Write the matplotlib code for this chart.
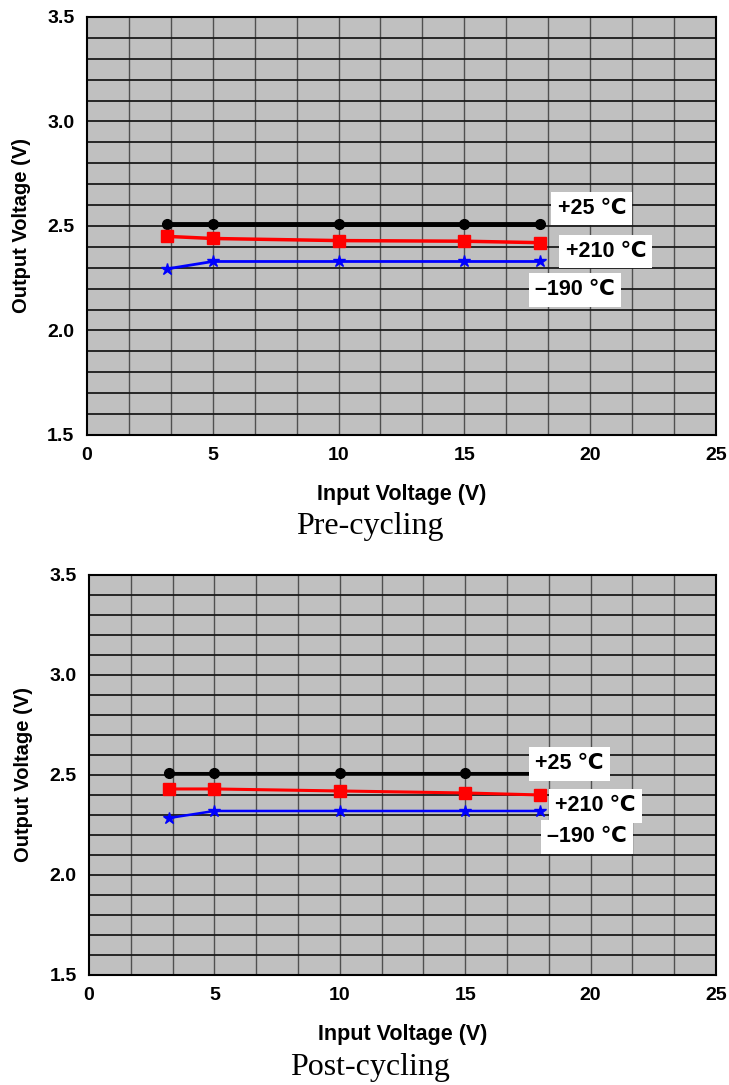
import numpy as np
import matplotlib
matplotlib.use("Agg")
import matplotlib.pyplot as plt


# output voltage vs input voltage, regulator at three temperatures
input_v = [3.2, 5, 10, 15, 18]

pre_25 = [2.51, 2.51, 2.51, 2.51, 2.51]
pre_210 = [2.45, 2.44, 2.43, 2.427, 2.42]
pre_m190 = [2.295, 2.33, 2.33, 2.33, 2.33]

post_25 = [2.51, 2.51, 2.51, 2.51, 2.51]
post_210 = [2.43, 2.43, 2.42, 2.41, 2.40]
post_m190 = [2.285, 2.32, 2.32, 2.32, 2.32]

labels = ["+25 \u2103", "+210 \u2103", "\u2013190 \u2103"]
titles = ["Pre-cycling", "Post-cycling"]

plt.rcParams['font.family'] = ['Liberation Sans', 'DejaVu Sans']

fig = plt.figure(figsize=(7.29, 10.85), dpi=100)

axes_rects = [[0.1193, 0.5991, 0.8628, 0.3853],
              [0.1221, 0.1014, 0.8601, 0.3687]]
# label box centres (data coords) per panel
label_pos = [[(20.07, 2.584), (20.62, 2.377), (19.4, 2.194)],
             [(19.16, 2.555), (20.2, 2.345), (19.86, 2.19)]]
title_y = [0.5143, 0.0157]
line_w = [(3.5, 2.5, 2.0), (2.2, 2.2, 1.8)]
series = [(pre_25, pre_210, pre_m190), (post_25, post_210, post_m190)]


def draw_panel(ax, data, lpos, lws):
    ax.set_facecolor('#c0c0c0')
    ax.set_xlim(0, 25)
    ax.set_ylim(1.5, 3.5)

    # grid: 15 columns, 20 rows
    for x in np.linspace(0, 25, 16)[1:-1]:
        ax.axvline(x, color='#505050', lw=1.0, zorder=1)
    for y in np.arange(1.6, 3.5, 0.1):
        ax.axhline(y, color='#1a1a1a', lw=1.3, zorder=1)

    v25, v210, vm190 = data
    ax.plot(input_v, v25, color='black', lw=lws[0], marker='o', ms=7, zorder=3)
    ax.plot(input_v, v210, color='red', lw=lws[1], marker='s', ms=8, zorder=3)
    ax.plot(input_v, vm190, color='blue', lw=lws[2], marker='*', ms=9, zorder=3)

    for txt, (x, y) in zip(labels, lpos):
        ax.text(x, y, txt, ha='center', va='center', fontsize=15.5,
                fontweight='bold', zorder=5,
                bbox=dict(facecolor='white', edgecolor='none', pad=4.5))

    ax.set_xticks([0, 5, 10, 15, 20, 25])
    ax.set_yticks([1.5, 2.0, 2.5, 3.0, 3.5])
    ax.set_yticklabels(['1.5', '2.0', '2.5', '3.0', '3.5'])
    ax.tick_params(length=0, pad=9, labelsize=14)
    for lab in ax.get_xticklabels() + ax.get_yticklabels():
        lab.set_fontweight('bold')
    for s in ax.spines.values():
        s.set_linewidth(1.5)
        s.set_color('black')
        s.set_zorder(6)

    ax.set_xlabel('Input Voltage (V)', fontsize=15.5, fontweight='bold', labelpad=14)
    ax.set_ylabel('Output Voltage (V)', fontsize=14.5, fontweight='bold', labelpad=12)


for i in range(2):
    ax = fig.add_axes(axes_rects[i])
    draw_panel(ax, series[i], label_pos[i], line_w[i])
    fig.text(0.5075, title_y[i], titles[i], ha='center', va='center',
             fontsize=23, family=['Liberation Serif', 'DejaVu Serif'])

fig.savefig('out.png', dpi=100)
